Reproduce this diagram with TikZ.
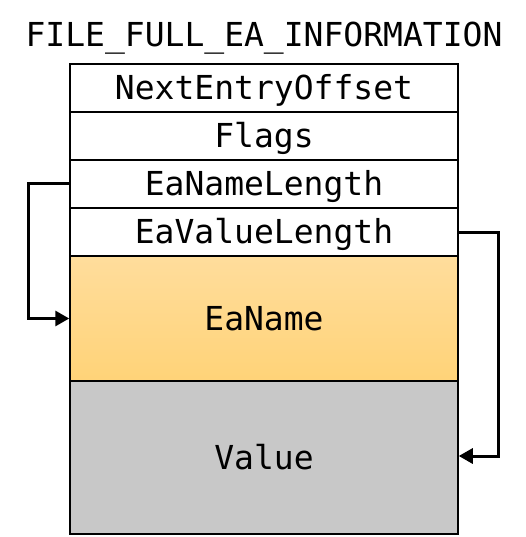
\documentclass[tikz,border=0pt]{standalone}
\usepackage{fontspec}
\setmonofont{DejaVu Sans Mono}
\usetikzlibrary{arrows.meta}
\tikzset{
    field/.style={draw, line width=1.5pt, minimum width=388pt, inner sep=0pt,
        text height=23pt, text depth=0pt, font=\fontsize{33}{40}\selectfont\ttfamily},
    link/.style={->, line width=3pt}
}
\begin{document}
\begin{tikzpicture}[x=1pt, y=-1pt, >={Triangle[length=14pt, width=15pt]}]
    \useasboundingbox (0,0) rectangle (526,537);
    % Title
    \node[field, draw=none] (title) at (264,35) {FILE\_FULL\_EA\_INFORMATION};

    % Fixed fields
    \node[field, minimum height=48pt] (next) at (264,88) {NextEntryOffset};
    \node[field, minimum height=48pt] (flags) at (264,136) {Flags};
    \node[field, minimum height=48pt] (namelen) at (264,184) {EaNameLength};
    \node[field, minimum height=48pt] (valuelen) at (264,232) {EaValueLength};

    % Variable fields
    \node[field, minimum height=125pt, top color={rgb,255:red,255;green,221;blue,156},
        bottom color={rgb,255:red,255;green,211;blue,120}] (eaname) at (264,318.5) {EaName};
    \node[field, minimum height=153pt, fill={rgb,255:red,200;green,200;blue,200}] (value) at (264,457.5) {Value};

    % Lengths point to their data
    \draw[link] (namelen.west) -- ++(-41,0) |- (eaname.west);
    \draw[link] (valuelen.east) -- ++(40,0) |- ([yshift=1.5pt]value.east);
\end{tikzpicture}
\end{document}
